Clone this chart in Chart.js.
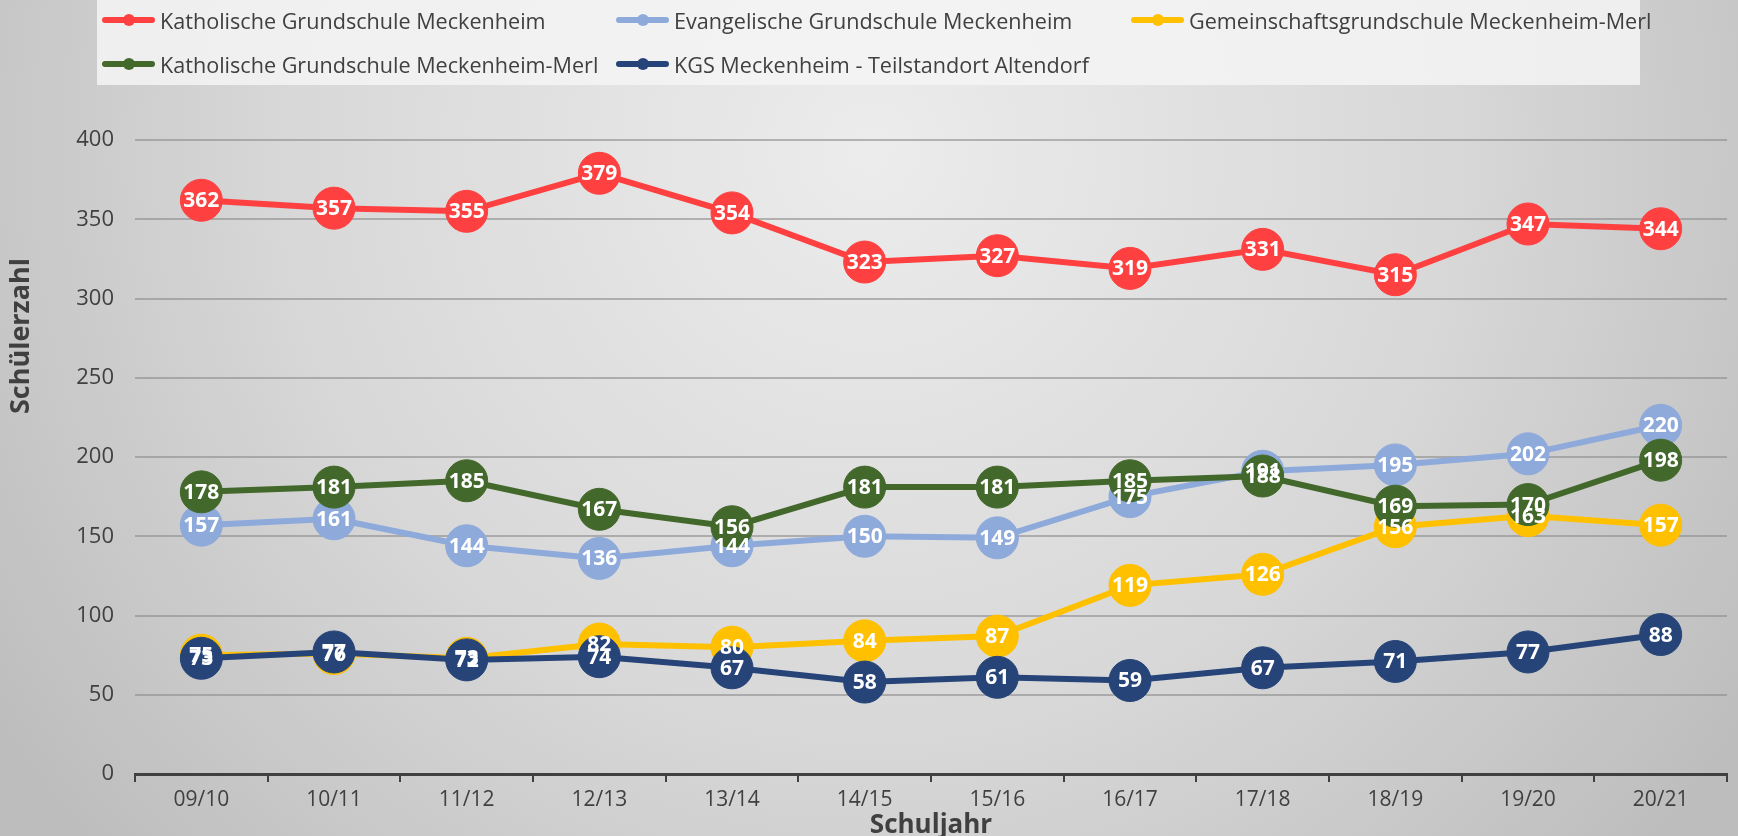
<!DOCTYPE html>
<html lang="de">
<head>
<meta charset="utf-8">
<title>Schülerzahlen Meckenheim</title>
<script src="https://cdn.jsdelivr.net/npm/chart.js@4"></script>
<style>
    html, body { margin: 0; padding: 0; }
    body { width: 1738px; height: 836px; overflow: hidden; position: relative; background: #d4d4d4; }
    #chart-wrap { position: absolute; left: 0; top: 0; width: 1738px; height: 836px; }
    #legend {
        position: absolute; left: 97px; top: 0; width: 1543px; height: 85px;
        background: rgba(244, 244, 244, 0.85);
        font-family: "Open Sans", sans-serif; font-size: 21.6px; color: #404040;
    }
    .legend-item { position: absolute; height: 30px; display: flex; align-items: center; white-space: nowrap; }
    .legend-icon { position: relative; width: 53px; height: 30px; margin-right: 5px; }
    .legend-icon .line { position: absolute; left: 0; top: 12px; width: 53px; height: 6px; border-radius: 3px; }
    .legend-icon .dot { position: absolute; left: 21px; top: 9px; width: 12px; height: 12px; border-radius: 50%; }
</style>
</head>
<body>
<div id="chart-wrap"><canvas id="schueler-chart" width="1738" height="836"></canvas></div>
<div id="legend"></div>
<script>
// Schuljahre
const schuljahre = ['09/10', '10/11', '11/12', '12/13', '13/14', '14/15', '15/16', '16/17', '17/18', '18/19', '19/20', '20/21'];

// Schülerzahlen je Schule
const kgsMeckenheim = [362, 357, 355, 379, 354, 323, 327, 319, 331, 315, 347, 344];
const evgsMeckenheim = [157, 161, 144, 136, 144, 150, 149, 175, 191, 195, 202, 220];
const ggsMerl = [75, 76, 73, 82, 80, 84, 87, 119, 126, 156, 163, 157];
const kgsMerl = [178, 181, 185, 167, 156, 181, 181, 185, 188, 169, 170, 198];
const kgsAltendorf = [73, 77, 72, 74, 67, 58, 61, 59, 67, 71, 77, 88];

const yTicks = [0, 50, 100, 150, 200, 250, 300, 350, 400];

const schulen = [
    { name: 'Katholische Grundschule Meckenheim', data: kgsMeckenheim, color: '#ff4040' },
    { name: 'Evangelische Grundschule Meckenheim', data: evgsMeckenheim, color: '#8eaadb' },
    { name: 'Gemeinschaftsgrundschule Meckenheim-Merl', data: ggsMerl, color: '#ffc000' },
    { name: 'Katholische Grundschule Meckenheim-Merl', data: kgsMerl, color: '#43682b' },
    { name: 'KGS Meckenheim - Teilstandort Altendorf', data: kgsAltendorf, color: '#264478' }
];

// --- Legende (HTML, 3 Spalten wie im Original) ---
const legendPos = [
    { left: 5, top: 5 }, { left: 519, top: 5 }, { left: 1034, top: 5 },
    { left: 5, top: 49 }, { left: 519, top: 49 }
];
const legendEl = document.getElementById('legend');
schulen.forEach((s, i) => {
    const item = document.createElement('div');
    item.className = 'legend-item';
    item.style.left = legendPos[i].left + 'px';
    item.style.top = legendPos[i].top + 'px';
    item.innerHTML = `
        <span class="legend-icon">
            <span class="line" style="background:${s.color}"></span>
            <span class="dot" style="background:${s.color}"></span>
        </span>
        <span>${s.name}</span>`;
    legendEl.appendChild(item);
});

// Hintergrund mit Verlauf
const backgroundPlugin = {
    id: 'bgGradient',
    beforeDraw(chart) {
        const ctx = chart.ctx;
        const g = ctx.createRadialGradient(870, 150, 0, 870, 150, 1050);
        g.addColorStop(0, '#ececec');
        g.addColorStop(0.55, '#d8d8d8');
        g.addColorStop(1, '#bdbdbd');
        ctx.save();
        ctx.fillStyle = g;
        ctx.fillRect(0, 0, chart.width, chart.height);
        ctx.restore();
    }
};

// Werte in den Markern + y-Achsentitel
const labelPlugin = {
    id: 'pointLabels',
    afterDatasetsDraw(chart) {
        const ctx = chart.ctx;
        ctx.save();
        ctx.font = 'bold 21px "Open Sans"';
        ctx.fillStyle = '#ffffff';
        ctx.textAlign = 'center';
        ctx.textBaseline = 'middle';
        chart.data.datasets.forEach((ds, i) => {
            const meta = chart.getDatasetMeta(i);
            meta.data.forEach((pt, j) => {
                ctx.fillText(String(ds.data[j]), pt.x, pt.y + 1);
            });
        });
        ctx.restore();
    },
    afterDraw(chart) {
        const ctx = chart.ctx;
        ctx.save();
        ctx.translate(21, 336);
        ctx.rotate(-Math.PI / 2);
        ctx.font = 'bold 27px "Open Sans"';
        ctx.fillStyle = '#404040';
        ctx.textAlign = 'center';
        ctx.textBaseline = 'middle';
        ctx.fillText('Schülerzahl', 0, 0);
        ctx.restore();
    }
};

new Chart(document.getElementById('schueler-chart').getContext('2d'), {
    type: 'line',
    data: {
        labels: schuljahre,
        datasets: schulen.map((s, i) => ({
            label: s.name,
            data: s.data,
            borderColor: s.color,
            backgroundColor: s.color,
            pointBackgroundColor: s.color,
            pointBorderColor: s.color,
            borderWidth: 6,
            pointRadius: 21,
            pointBorderWidth: 1,
            tension: 0,
            fill: false,
            order: schulen.length - i // letzte Schule oben
        }))
    },
    options: {
        responsive: false,
        animation: false,
        layout: { autoPadding: false, padding: { top: 140, right: 11, left: 0, bottom: 0 } },
        plugins: {
            legend: { display: false },
            tooltip: { enabled: false }
        },
        scales: {
            x: {
                offset: true,
                grid: {
                    offset: true,
                    drawOnChartArea: false,
                    drawTicks: true,
                    tickLength: 8,
                    color: '#404040',
                    lineWidth: 2
                },
                border: { color: '#404040', width: 3 },
                ticks: {
                    font: { family: 'Open Sans', size: 21 },
                    color: '#404040',
                    padding: 5,
                    maxRotation: 0
                },
                title: {
                    display: true,
                    text: 'Schuljahr',
                    font: { family: 'Open Sans', size: 26, weight: 'bold', lineHeight: 0.8 },
                    color: '#404040',
                    padding: { top: 0, bottom: 0 }
                },
                afterFit(scale) {
                    scale.height = 62;
                    scale.paddingLeft = 0;
                    scale.paddingRight = 0;
                }
            },
            y: {
                min: 0,
                max: 400,
                afterBuildTicks(scale) { scale.ticks = yTicks.map(v => ({ value: v })); },
                grid: {
                    color: 'rgba(140, 140, 140, 0.6)',
                    lineWidth: 2,
                    drawTicks: false
                },
                border: { display: false },
                ticks: {
                    font: { family: 'Open Sans', size: 22 },
                    color: '#404040',
                    padding: 21
                },
                afterFit(scale) { scale.width = 135; }
            }
        }
    },
    plugins: [backgroundPlugin, labelPlugin]
});
</script>
</body>
</html>
